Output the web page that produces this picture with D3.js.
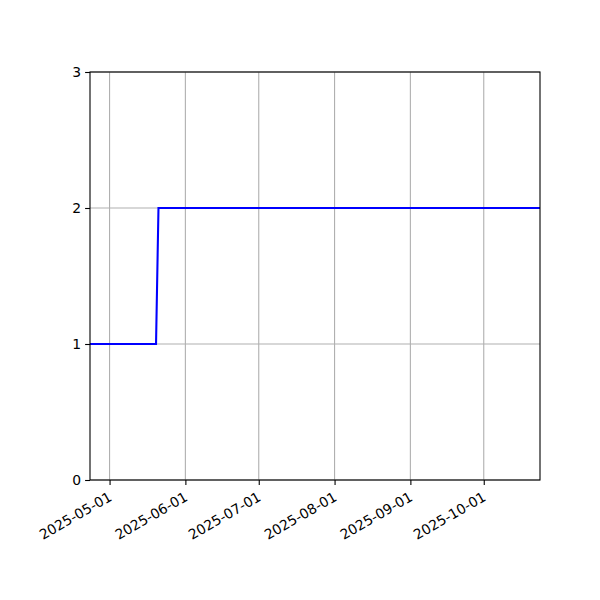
<!DOCTYPE html>
<html lang="en">
<head>
    <meta charset="utf-8">
    <script src="https://d3js.org/d3.v7.min.js"></script>
    <style>
        body { margin: 0; background: #fff; }
        text { font-family: "DejaVu Sans", sans-serif; font-size: 13.9px; fill: #000; }
    </style>
</head>
<body>
    <svg id="chart" width="600" height="600"></svg>
    <script>
        // data
        const dates = ["2025-04-23", "2025-05-20", "2025-05-21", "2025-10-24"];
        const values = [1, 1, 2, 2];
        const xTicks = ["2025-05-01", "2025-06-01", "2025-07-01", "2025-08-01", "2025-09-01", "2025-10-01"];
        const yTicks = [0, 1, 2, 3];

        const parse = d3.utcParse("%Y-%m-%d");
        const points = dates.map((d, i) => ({ date: parse(d), value: values[i] }));

        const margin = { top: 72, right: 60, bottom: 120, left: 90 };
        const width = 600 - margin.left - margin.right;
        const height = 600 - margin.top - margin.bottom;

        const svg = d3.select("#chart");
        const g = svg.append("g").attr("transform", `translate(${margin.left},${margin.top})`);

        const x = d3.scaleUtc()
            .domain(d3.extent(points, d => d.date))
            .range([0, width]);

        const y = d3.scaleLinear()
            .domain([0, 3])
            .range([height, 0]);

        // grid
        g.append("g")
            .selectAll("line")
            .data(xTicks.map(parse))
            .enter().append("line")
            .attr("x1", d => x(d)).attr("x2", d => x(d))
            .attr("y1", 0).attr("y2", height)
            .style("stroke", "#b0b0b0").style("stroke-width", 1.1);

        g.append("g")
            .selectAll("line")
            .data(yTicks)
            .enter().append("line")
            .attr("x1", 0).attr("x2", width)
            .attr("y1", d => y(d)).attr("y2", d => y(d))
            .style("stroke", "#b0b0b0").style("stroke-width", 1.1);

        // line
        const line = d3.line()
            .x(d => x(d.date))
            .y(d => y(d.value));

        g.append("path")
            .datum(points)
            .attr("d", line)
            .style("fill", "none")
            .style("stroke", "blue")
            .style("stroke-width", 2.08);

        // axes
        const xAxis = g.append("g")
            .attr("transform", `translate(0,${height})`)
            .call(d3.axisBottom(x)
                .tickValues(xTicks.map(parse))
                .tickFormat(d3.utcFormat("%Y-%m-%d"))
                .tickSize(4.9)
                .tickPadding(4));
        xAxis.select(".domain").remove();
        xAxis.selectAll("text")
            .style("font-size", "13.9px")
            .style("font-family", "DejaVu Sans, sans-serif")
            .attr("text-anchor", "end")
            .attr("dx", "0")
            .attr("dy", "0")
            .attr("transform", "translate(-1.7,12) rotate(-30)");

        const yAxis = g.append("g")
            .call(d3.axisLeft(y)
                .tickValues(yTicks)
                .tickFormat(d3.format("d"))
                .tickSize(4.9)
                .tickPadding(4));
        yAxis.select(".domain").remove();
        yAxis.selectAll("text")
            .style("font-size", "13.9px")
            .style("font-family", "DejaVu Sans, sans-serif");
        svg.selectAll(".tick line").style("stroke", "#000").style("stroke-width", 1.1);

        // frame
        g.append("rect")
            .attr("x", 0).attr("y", 0)
            .attr("width", width).attr("height", height)
            .style("fill", "none")
            .style("stroke", "#000")
            .style("stroke-width", 1.1);
    </script>
</body>
</html>
